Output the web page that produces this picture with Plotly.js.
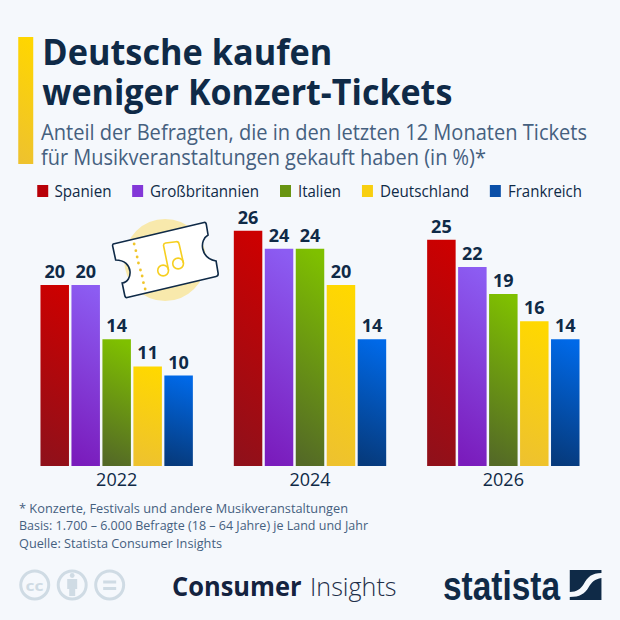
<!DOCTYPE html>
<html><head><meta charset="utf-8">
<script src="https://cdn.plot.ly/plotly-3.0.1.min.js"></script>
<style>html,body{margin:0;padding:0;background:#f5f8fc}</style></head>
<body><div id="chart" style="width:620px;height:620px"></div>
<script>
const years = ['2022','2024','2026'];
const seriesNames = ['Spanien','Großbritannien','Italien','Deutschland','Frankreich'];
const spanien = [20,26,25];
const grossbritannien = [20,24,22];
const italien = [14,24,19];
const deutschland = [11,20,16];
const frankreich = [10,14,14];
const seriesValues = [spanien,grossbritannien,italien,deutschland,frankreich];
const topColors = ['#cc0000','#8c5cf2','#7fc000','#ffd800','#0069e8'];
const bottomColors = ['#90101a','#7a1cbc','#546a26','#eec22e','#063a7c'];
const legendColors = ['#b80008','#8338d8','#689412','#f8cf10','#0a4fa8'];
const titleLines = ['Deutsche kaufen','weniger Konzert-Tickets'];
const subtitleLines = ['Anteil der Befragten, die in den letzten 12 Monaten Tickets','für Musikveranstaltungen gekauft haben (in %)*'];
const notes = ['* Konzerte, Festivals und andere Musikveranstaltungen','Basis: 1.700 – 6.000 Befragte (18 – 64 Jahre) je Land und Jahr','Quelle: Statista Consumer Insights'];

const legendSwatchX = [37,132,280,362,490];
const legendTextBox = [[54.5,57],[150,109],[298,43],[380,89],[508,74]];
const F = 'Open Sans, sans-serif', NAVY = '#0f2a47', SLATE = '#45607f';
const M = {l:19.75,r:19.75,t:200,b:154};
const px = x => (x-M.l)/(620-M.l-M.r), py = y => (620-M.b-y)/(620-M.t-M.b);
const fits = [];   // annotation index -> [left px, width px]
const annotations = [], shapes = [];
function txt(x,y,w,text,size,color,weight,family){
  fits[annotations.length] = [x,w];
  annotations.push({xref:'paper',yref:'paper',x:px(x),y:py(y),text:text,showarrow:false,
    xanchor:'left',yanchor:'middle',align:'left',
    font:{family:family||F,size:size,color:color,weight:weight||400}});
}
function rect(x0,y0,x1,y1,fill){
  return {type:'rect',xref:'paper',yref:'paper',x0:px(x0),x1:px(x1),y0:py(y0),y1:py(y1),
    fillcolor:fill,line:{width:0},layer:'above'};
}
function circ(cx,cy,r,fill,line,w){
  return {type:'circle',xref:'paper',yref:'paper',x0:px(cx-r),x1:px(cx+r),y0:py(cy+r),y1:py(cy-r),
    fillcolor:fill,line:{color:line,width:w||0},layer:'above'};
}
function pth(d,fill,line,w){
  const out = d.replace(/(-?[\d.]+),(-?[\d.]+)/g,(m,a,b)=>px(+a).toFixed(5)+','+py(+b).toFixed(5));
  return {type:'path',xref:'paper',yref:'paper',path:out,fillcolor:fill,
    line:{color:line||'rgba(0,0,0,0)',width:w||0},layer:'above'};
}

const traces = seriesNames.map((n,i)=>({
  type:'bar',name:n,x:years,y:seriesValues[i],marker:{color:topColors[i],line:{width:0}},
  text:seriesValues[i].map(String),textposition:'outside',cliponaxis:false,
  textfont:{family:F,size:18,color:NAVY,weight:700},hoverinfo:'x+y+name'
}));

shapes.push(rect(18,37,33,164,'#ffd600'));
legendSwatchX.forEach((x,i)=>{
  shapes.push(rect(x,185,x+11,197,legendColors[i]));
  txt(legendTextBox[i][0],191,legendTextBox[i][1],seriesNames[i],16,NAVY);
});
txt(42.3,51,290,titleLines[0],36,NAVY,700);
txt(42.3,91,410,titleLines[1],36,NAVY,700);
txt(41,132,546,subtitleLines[0],21,SLATE);
txt(41,157,445,subtitleLines[1],21,SLATE);
txt(19,508,329,notes[0],13,SLATE);
txt(19,525,349,notes[1],13,SLATE);
txt(19,543,203,notes[2],13,SLATE);

// ticket
shapes.push(circ(165,260,41,'#f8e9ac','#f8e9ac',0));
shapes.push(pth('M113,244 L204,222.5 Q206,222 206.3,225 L208,235 C199,240 200,258 216,261 L218,273 Q218.5,276 216,276.5 L127,297.5 Q125,298 124.5,295 L122,283 C133,282 134,260 115.5,260 L112.7,247 Q112,245 113,244 Z','#ffffff',NAVY,1.6));
[[134,244],[135.7,250.7],[137,257],[138.3,263],[140.3,270],[142,276],[143.3,282.7],[145,289]].forEach(c=>shapes.push(circ(c[0],c[1],1.4,'#f0c52a','#f0c52a',0)));
shapes.push(circ(163,270.5,5.4,'rgba(0,0,0,0)','#f6cf20',1.6));
shapes.push(circ(178,263.5,5.4,'rgba(0,0,0,0)','#f6cf20',1.6));
shapes.push(pth('M168.4,270 L163.5,246 Q163,243.5 165.5,243 L176,241.7 Q178.5,241.4 179,244 L183.3,263','rgba(0,0,0,0)','#f6cf20',1.6));

// licence icons
const G='#cfdbe4';
[34.5,72,109.5].forEach(c=>shapes.push(circ(c,585,14,'rgba(0,0,0,0)',G,3)));
shapes.push(circ(72,575.5,2.4,G,G,0));
shapes.push(rect(67,579,77,589,G));
shapes.push(rect(69,589,75,596,G));
shapes.push(rect(103,580.5,116,583.5,G));
shapes.push(rect(103,587,116,590,G));
txt(25.5,585,18,'cc',15,G,700);

txt(172,586,129.5,'Consumer',26,'#14233f',700);
txt(310,586,86.5,'Insights',26,'#1e2f49',300);
txt(443,586,117,'statista',41,NAVY,700,'Liberation Sans, sans-serif');
// statista mark
shapes.push(pth('M570,570 L601.7,570 L601.7,573 C592,573 588,577 584,584 C581,589 577,592 570,592 Z',NAVY));
shapes.push(pth('M601.7,578 L601.7,600 L570,600 L570,597 C580,597 585,594 589,587 C592,582 595,579 601.7,578 Z',NAVY));

const layout = {
  width:620,height:620,paper_bgcolor:'#f5f8fc',plot_bgcolor:'rgba(0,0,0,0)',
  margin:{l:M.l,r:M.r,t:M.t,b:M.b,pad:0},
  barmode:'group',bargap:0.199,bargroupgap:0.08,showlegend:false,
  font:{family:F,color:NAVY},
  xaxis:{type:'category',categoryorder:'array',categoryarray:years,range:[-0.5,2.5],fixedrange:true,
    tickfont:{family:F,size:18,color:NAVY},ticks:'',ticklen:0,ticklabelstandoff:1,showline:false,showgrid:false,zeroline:false},
  yaxis:{range:[0,266/9.05],visible:false,showgrid:false,zeroline:false,fixedrange:true},
  shapes:shapes,annotations:annotations
};

function addGrad(defs,id,a,b){
  const ns='http://www.w3.org/2000/svg';
  const g=document.createElementNS(ns,'linearGradient');
  g.setAttribute('id',id);g.setAttribute('x1','0.55');g.setAttribute('y1','0');g.setAttribute('x2','0.45');g.setAttribute('y2','1');
  [[0,a],[1,b]].forEach(s=>{const st=document.createElementNS(ns,'stop');st.setAttribute('offset',s[0]);st.setAttribute('stop-color',s[1]);g.appendChild(st);});
  defs.appendChild(g);
}
Plotly.newPlot('chart',traces,layout,{displayModeBar:false,staticPlot:true}).then(gd=>{
  const svg=gd.querySelector('svg.main-svg');
  const defs=svg.querySelector('defs');
  topColors.forEach((c,i)=>addGrad(defs,'barGrad'+i,c,bottomColors[i]));
  addGrad(defs,'accentGrad','#ffd600','#eec22e');
  gd.querySelectorAll('.barlayer .trace.bars').forEach((t,i)=>{
    t.querySelectorAll('.point path').forEach(p=>{p.style.fill='url(#barGrad'+i+')';});
    t.querySelectorAll('.point text').forEach(p=>{p.setAttribute('y',(+p.getAttribute('y')||0)+1);});
  });
  const accent=gd.querySelector('.shapelayer path[data-index="0"]')||gd.querySelectorAll('.shapelayer path')[0];
  if(accent) accent.style.fill='url(#accentGrad)';
  // fit each text to its measured left edge and width
  gd.querySelectorAll('.annotation').forEach(a=>{
    const k=+a.getAttribute('data-index'), f=fits[k], el=a.querySelector('text');
    if(!f||!el) return;
    el.setAttribute('textLength',f[1]);
    el.setAttribute('lengthAdjust','spacingAndGlyphs');
    el.setAttribute('text-anchor','start');
    const r=el.getBoundingClientRect();
    el.setAttribute('x',(+el.getAttribute('x')||0)+f[0]-r.left);
  });
});
</script></body></html>
